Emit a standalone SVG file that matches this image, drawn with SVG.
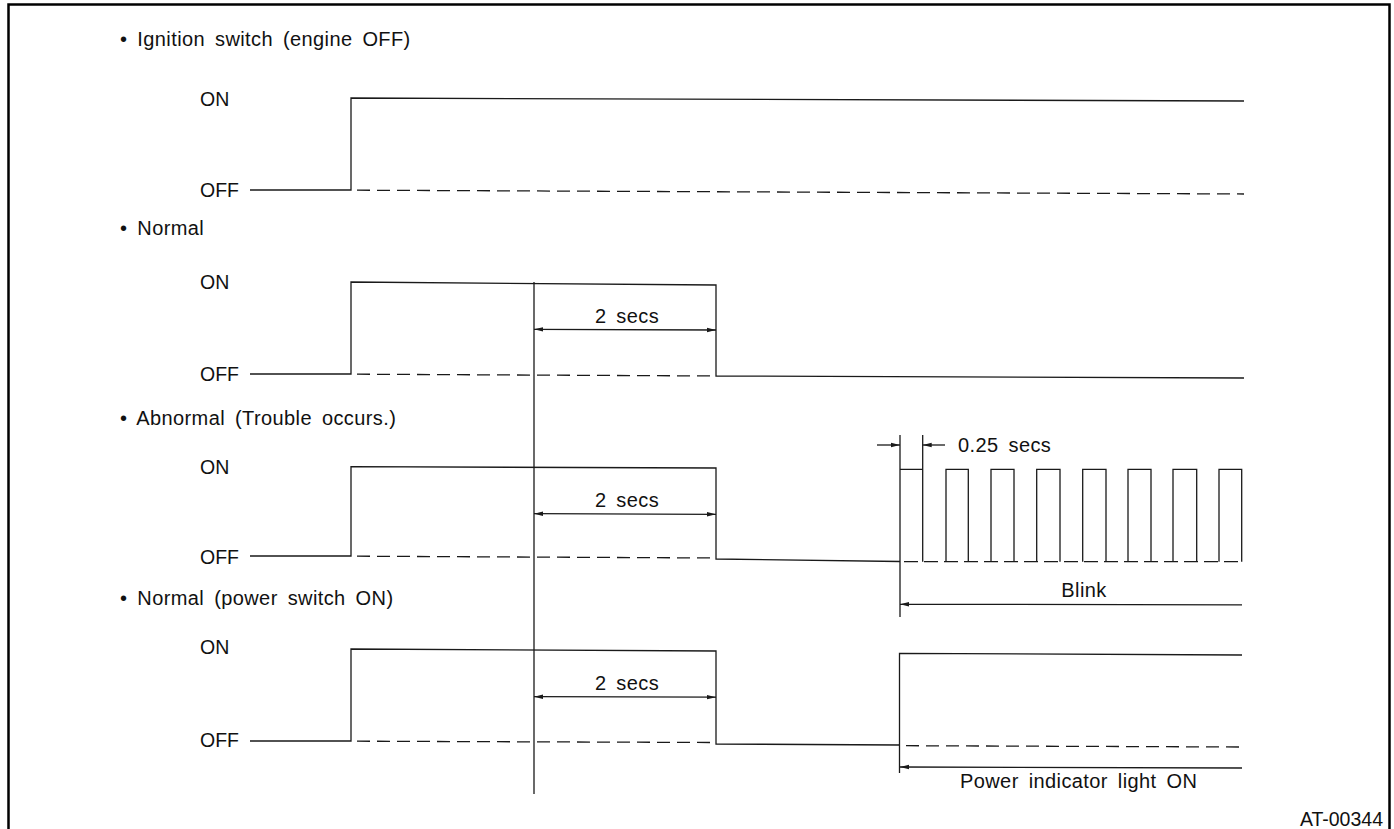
<svg xmlns="http://www.w3.org/2000/svg" width="1394" height="829" viewBox="0 0 1394 829">
<style>
.ln{fill:none;stroke:#1a1a1a;stroke-width:1.3}
.ds{fill:none;stroke:#1a1a1a;stroke-width:1.3;stroke-dasharray:13 7}
.t{font-family:"Liberation Sans",Arial,sans-serif;font-size:20px;fill:#111;letter-spacing:0.4px;word-spacing:4px}
.lb{font-family:"Liberation Sans",Arial,sans-serif;font-size:19.5px;fill:#111}
</style>
<defs>
<marker id="ah" markerUnits="userSpaceOnUse" markerWidth="10" markerHeight="6" refX="9" refY="3" orient="auto-start-reverse">
<path d="M0,0.8 L9,3 L0,5.2 Z" fill="#1a1a1a"/>
</marker>
</defs>
<rect x="8.5" y="4.5" width="1381" height="840" fill="#fff" stroke="#000" stroke-width="2.5"/>

<g id="sec1">
<text class="t" x="120" y="46">• Ignition switch (engine OFF)</text>
<text class="lb" x="200" y="106">ON</text>
<text class="lb" x="200" y="197">OFF</text>
<path class="ln" d="M250,190 L351,190 L351,98 L1244,101"/>
<path class="ds" d="M357,190.2 L1244,194"/>
</g>

<g id="sec2">
<text class="t" x="120" y="235">• Normal</text>
<text class="lb" x="200" y="289">ON</text>
<text class="lb" x="200" y="381">OFF</text>
<path class="ln" d="M250,374 L351,374 L351,282 L716,285 L716,376 L1244,378"/>
<path class="ds" d="M357,374.2 L716,376"/>
<text class="t" x="627" y="323" text-anchor="middle">2 secs</text>
</g>

<g id="sec3">
<text class="t" x="120" y="425">• Abnormal (Trouble occurs.)</text>
<text class="lb" x="200" y="474">ON</text>
<text class="lb" x="200" y="564">OFF</text>
<path class="ln" d="M250,556 L351,556 L351,466.7 L716,468 L716,559 L900,561.5"/>
<path class="ds" d="M357,556.2 L716,558"/>
<text class="t" x="627" y="507" text-anchor="middle">2 secs</text>
<path class="ln" d="M900,435 L900,617"/>
<path class="ln" d="M900,469.3 L922.7,469.3 M922.7,435 L922.7,561.7"/>
<path class="ln" d="M946,561.7 V469.3 H968.3 V561.7 M991,561.7 V469.3 H1014 V561.7 M1036.7,561.7 V469.3 H1060 V561.7 M1082.7,561.7 V469.3 H1106 V561.7 M1128,561.7 V469.3 H1151 V561.7 M1173,561.7 V469.3 H1196.7 V561.7 M1219,561.7 V469.3 H1241.7 V561.7"/>
<path class="ds" d="M904,561.7 L1242,561.7" style="stroke-dasharray:14 6"/>
<text class="t" x="958" y="452">0.25 secs</text>
<text class="t" x="1084" y="597" text-anchor="middle">Blink</text>
</g>

<g id="sec4">
<text class="t" x="120" y="605">• Normal (power switch ON)</text>
<text class="lb" x="200" y="654">ON</text>
<text class="lb" x="200" y="747">OFF</text>
<path class="ln" d="M250,741 L351,741 L351,649 L716,651 L716,744 L900,745"/>
<path class="ds" d="M357,741.2 L716,742.5"/>
<text class="t" x="627" y="690" text-anchor="middle">2 secs</text>
<path class="ln" d="M899.5,773 L899.5,653.3 L1242,655"/>
<path class="ds" d="M906,745.7 L1242,747"/>
<text class="t" x="960" y="788">Power indicator light ON</text>
</g>

<g id="connectors">
<path class="ln" d="M534,282 L534,794"/>
<path class="ln" d="M534,329.3 L716,330" marker-start="url(#ah)" marker-end="url(#ah)"/>
<path class="ln" d="M534,513.7 L716,514.3" marker-start="url(#ah)" marker-end="url(#ah)"/>
<path class="ln" d="M534,696.7 L716,697.2" marker-start="url(#ah)" marker-end="url(#ah)"/>
<path class="ln" d="M877,445 L900,445" marker-end="url(#ah)"/>
<path class="ln" d="M945,445 L922.7,445" marker-end="url(#ah)"/>
<path class="ln" d="M1242,604.8 L900,604.3" marker-end="url(#ah)"/>
<path class="ln" d="M1242,768 L900,767" marker-end="url(#ah)"/>
</g>

<text class="lb" x="1383" y="826" text-anchor="end">AT-00344</text>
</svg>
